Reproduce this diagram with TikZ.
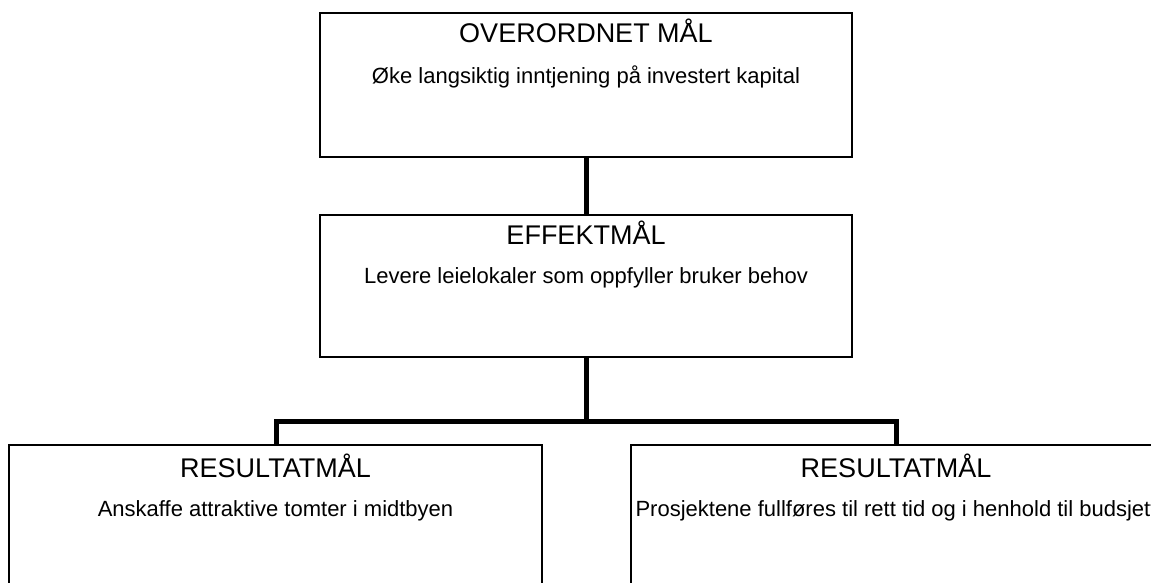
\documentclass[tikz,border=0pt]{standalone}
\usepackage{fontspec}
\setmainfont{Liberation Sans}
\begin{document}
\begin{tikzpicture}[x=1pt,y=-1pt,
  goalbox/.style={draw=black, line width=1.6pt, fill=white, rectangle, inner sep=0pt},
  heading/.style={font=\fontsize{27}{31}\selectfont, inner sep=0pt, anchor=center},
  goaltext/.style={font=\fontsize{22}{26}\selectfont, inner sep=0pt, anchor=center},
  link/.style={draw=black, line width=5pt, line join=miter}]
  \useasboundingbox (0,0) rectangle (1151,583);
  \clip (0,0) rectangle (1151,583);

  % connectors first, boxes are drawn over them
  \coordinate (bus) at (586.5,421);
  \coordinate (topS) at (586.5,157);
  \coordinate (midN) at (586.5,215);
  \coordinate (midS) at (586.5,357);
  \coordinate (leftN) at (276,445);
  \coordinate (rightN) at (896,445);
  \draw[link] (topS) -- (midN);
  \draw[link] (midS) -- (bus);
  \draw[link] (leftN) |- (bus) -| (rightN);

  % goal boxes
  \node[goalbox, minimum width=532pt, minimum height=144pt] (top) at (586,85) {};
  \node[goalbox, minimum width=532pt, minimum height=142pt] (mid) at (586,286) {};
  \node[goalbox, minimum width=533pt, minimum height=170pt] (left) at (275.5,530) {};
  \node[goalbox, minimum width=530pt, minimum height=170pt] (right) at (896,530) {};

  % texts
  \node[heading] (topH) at (586,31) {OVERORDNET MÅL};
  \node[goaltext] (topT) at (586,77) {Øke langsiktig inntjening på investert kapital};
  \node[heading] (midH) at (586,233) {EFFEKTMÅL};
  \node[goaltext] (midT) at (586,278) {Levere leielokaler som oppfyller bruker behov};
  \node[heading] (leftH) at (275.5,466) {RESULTATMÅL};
  \node[goaltext] (leftT) at (275.5,511) {Anskaffe attraktive tomter i midtbyen};
  \node[heading] (rightH) at (896,466) {RESULTATMÅL};
  \node[goaltext] (rightT) at (896,511) {Prosjektene fullføres til rett tid og i henhold til budsjett};
\end{tikzpicture}
\end{document}
